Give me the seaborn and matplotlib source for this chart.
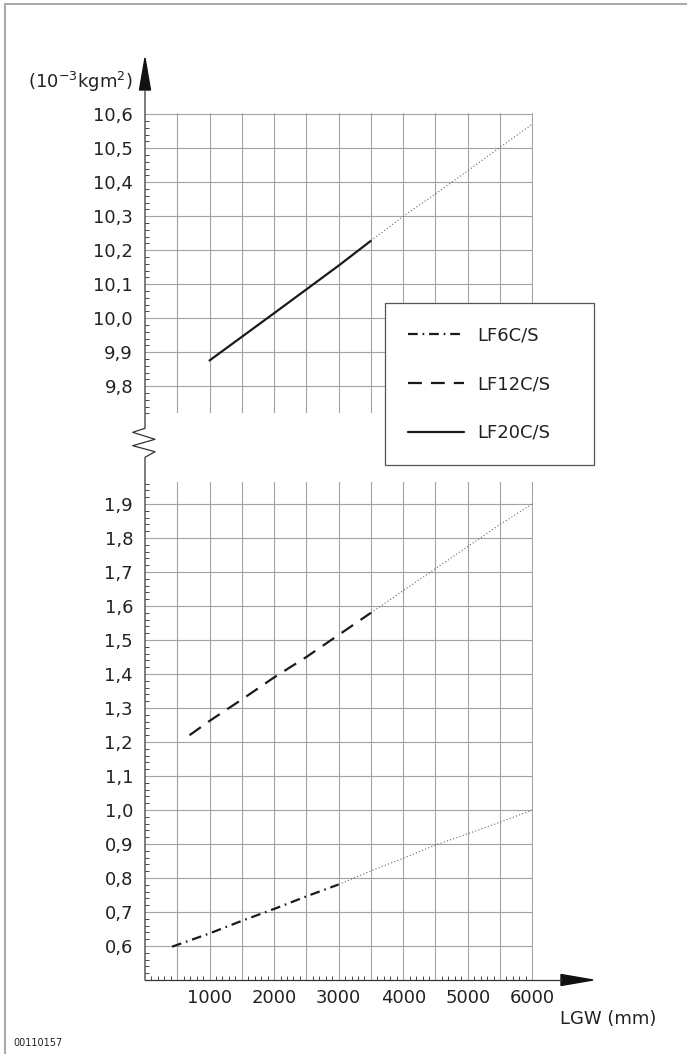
import matplotlib
matplotlib.use("Agg")
import matplotlib.pyplot as plt
import seaborn as sns
import numpy as np
import pandas as pd
from matplotlib.lines import Line2D
from matplotlib.patches import Polygon
from matplotlib.ticker import FixedLocator, FuncFormatter

# ---------------- data ----------------
series_names = ["LF6C/S", "LF12C/S", "LF20C/S"]

lf20_x = [1000, 2000, 3000, 3500]
lf20_y = [9.876, 10.015, 10.155, 10.228]
lf20_ext_x = [3500, 4000, 4500, 5000, 5500, 6000]
lf20_ext_y = [10.228, 10.300, 10.366, 10.434, 10.503, 10.571]

lf12_x = [690, 1000, 1500, 2000, 2500, 3000, 3500]
lf12_y = [1.220, 1.262, 1.325, 1.390, 1.450, 1.515, 1.580]
lf12_ext_x = [3500, 4000, 4500, 5000, 5500, 6000]
lf12_ext_y = [1.580, 1.645, 1.710, 1.775, 1.840, 1.900]

lf6_x = [420, 1000, 1500, 2000, 2500, 3000]
lf6_y = [0.598, 0.637, 0.674, 0.709, 0.746, 0.781]
lf6_ext_x = [3000, 3500, 4000, 4500, 5000, 5500, 6000]
lf6_ext_y = [0.781, 0.821, 0.858, 0.897, 0.930, 0.964, 1.000]

x_grid = [500, 1000, 1500, 2000, 2500, 3000, 3500, 4000, 4500, 5000, 5500, 6000]
x_labels = [1000, 2000, 3000, 4000, 5000, 6000]
y_top_ticks = [9.8, 9.9, 10.0, 10.1, 10.2, 10.3, 10.4, 10.5, 10.6]
y_bot_ticks = [0.6, 0.7, 0.8, 0.9, 1.0, 1.1, 1.2, 1.3, 1.4, 1.5, 1.6, 1.7, 1.8, 1.9]

# ---------------- style ----------------
sns.set_style("white")
plt.rcParams["font.family"] = ["DejaVu Sans"]
plt.rcParams["lines.scale_dashes"] = False
TXT = "#222222"
GRID = "#a2a2a2"

W, H = 687, 1054
fig = plt.figure(figsize=(W / 100, H / 100), dpi=100)

def fx(px):
    return px / W

def fy(py):
    return 1 - py / H

X0 = 145.0
PX_PER_X = (532.3 - 145.0) / 6000.0
XMAX = 6010.0
X1 = X0 + XMAX * PX_PER_X
PX_PER_UNIT = 340.0  # 0.1 -> 34 px

# top panel
top_lo, top_hi = 9.72, 10.603
top_top = 114.3 - (top_hi - 10.6) * PX_PER_UNIT
top_bot = top_top + (top_hi - top_lo) * PX_PER_UNIT
ax_top = fig.add_axes([fx(X0), fy(top_bot), fx(X1) - fx(X0), fy(top_top) - fy(top_bot)])

# bottom panel
bot_lo, bot_hi = 0.5, 1.965
bot_bot = 980.0
bot_top = bot_bot - (bot_hi - bot_lo) * PX_PER_UNIT
ax_bot = fig.add_axes([fx(X0), fy(bot_bot), fx(X1) - fx(X0), fy(bot_top) - fy(bot_bot)])

dashdot = (0, (7, 3.5, 1.2, 3.5))
dashed = (0, (10, 6.5))
dotted = (0, (0.8, 1.6))

def draw(ax, xs, ys, ls, lw, color):
    df = pd.DataFrame({"x": xs, "y": ys})
    sns.lineplot(data=df, x="x", y="y", ax=ax, color=color, linewidth=lw,
                 linestyle=ls, legend=False, sort=False, estimator=None)

draw(ax_top, lf20_x, lf20_y, "-", 1.6, "#1a1a1a")
draw(ax_top, lf20_ext_x, lf20_ext_y, dotted, 0.8, "#666666")
draw(ax_bot, lf12_x, lf12_y, dashed, 1.6, "#1a1a1a")
draw(ax_bot, lf12_ext_x, lf12_ext_y, dotted, 0.8, "#666666")
draw(ax_bot, lf6_x, lf6_y, dashdot, 1.6, "#1a1a1a")
draw(ax_bot, lf6_ext_x, lf6_ext_y, dotted, 0.8, "#666666")

def fmt_comma(v, pos):
    return f"{v:.1f}".replace(".", ",")

for ax, lo, hi, yt in [(ax_top, top_lo, top_hi, y_top_ticks), (ax_bot, bot_lo, bot_hi, y_bot_ticks)]:
    ax.set_xlim(0, XMAX)
    ax.set_ylim(lo, hi)
    for s in ax.spines.values():
        s.set_visible(False)
    ax.set_xlabel("")
    ax.set_ylabel("")
    ax.patch.set_alpha(0)
    ax.xaxis.set_major_locator(FixedLocator(x_grid))
    ax.yaxis.set_major_locator(FixedLocator(yt))
    ax.yaxis.set_minor_locator(FixedLocator(np.round(np.arange(lo, min(hi, yt[-1] + 0.07) + 1e-9, 0.02), 2)))
    ax.yaxis.set_major_formatter(FuncFormatter(fmt_comma))
    ax.yaxis.set_minor_formatter(FuncFormatter(lambda v, p: ""))
    ax.grid(True, which="major", color=GRID, linewidth=0.8)
    ax.tick_params(axis="y", which="major", length=0, pad=8.6, labelsize=13, labelcolor=TXT)
    ax.tick_params(axis="y", which="minor", direction="in", length=3, width=0.7,
                   color="#444444", left=True)

ax_top.tick_params(axis="x", which="both", length=0, labelbottom=False)

ax_bot.xaxis.set_minor_locator(FixedLocator(list(range(100, 6001, 100))))
ax_bot.xaxis.set_minor_formatter(FuncFormatter(lambda v, p: ""))
ax_bot.xaxis.set_major_formatter(FuncFormatter(lambda v, p: f"{int(round(v))}" if int(round(v)) in x_labels else ""))
ax_bot.tick_params(axis="x", which="major", length=0, pad=6.8, labelsize=13, labelcolor=TXT)
ax_bot.tick_params(axis="x", which="minor", direction="in", length=3, width=0.7,
                   color="#444444", bottom=True)

# ---------------- axes lines, arrows, break ----------------
AX_COL = "#333333"
zz = [(X0, 90), (X0, 428.3), (132.7, 432.3), (155, 439.3), (132.7, 445.7),
      (155, 451.7), (X0, 457.3), (X0, 980)]
fig.add_artist(Line2D([fx(p[0]) for p in zz], [fy(p[1]) for p in zz],
                      color=AX_COL, lw=0.9, transform=fig.transFigure))
fig.add_artist(Line2D([fx(X0), fx(562)], [fy(980), fy(980)], color=AX_COL, lw=0.9,
                      transform=fig.transFigure))
fig.add_artist(Polygon([(fx(X0 - 5.5), fy(90)), (fx(X0 + 5.5), fy(90)), (fx(X0), fy(58))],
                       closed=True, color="#111111", transform=fig.transFigure))
fig.add_artist(Polygon([(fx(561), fy(974.5)), (fx(561), fy(985.5)), (fx(593), fy(980))],
                       closed=True, color="#111111", transform=fig.transFigure))

# ---------------- texts ----------------
fig.text(fx(133), fy(82), r"(10$^{-3}$kgm$^{2}$)", ha="right", va="center",
         fontsize=13, color=TXT)
fig.text(fx(560), fy(1019), "LGW (mm)", ha="left", va="center", fontsize=13, color=TXT)
fig.text(fx(13), fy(1043), "00110157", ha="left", va="center", fontsize=7, color=TXT)

# ---------------- legend ----------------
handles = [
    Line2D([], [], color="#1a1a1a", lw=1.6, linestyle=dashdot),
    Line2D([], [], color="#1a1a1a", lw=1.6, linestyle=dashed),
    Line2D([], [], color="#1a1a1a", lw=1.6, linestyle="-"),
]
leg = fig.legend(handles, series_names, loc="upper left",
                 bbox_to_anchor=(fx(385), fy(303), fx(594) - fx(385), 0),
                 bbox_transform=fig.transFigure, mode="expand",
                 fontsize=13, borderpad=1.3, labelspacing=1.7, handlelength=3.05,
                 handletextpad=0.75, fancybox=False, framealpha=1, borderaxespad=0)
for t in leg.get_texts():
    t.set_color(TXT)
leg.get_frame().set_edgecolor("#555555")
leg.get_frame().set_linewidth(0.9)

# ---------------- page border ----------------
fig.add_artist(Line2D([fx(4.5), fx(4.5)], [0, fy(4)], color="#aaaaaa", lw=1.5,
                      transform=fig.transFigure))
fig.add_artist(Line2D([fx(4.5), 1], [fy(4), fy(4)], color="#aaaaaa", lw=1.5,
                      transform=fig.transFigure))

fig.savefig("out.png", dpi=100)
